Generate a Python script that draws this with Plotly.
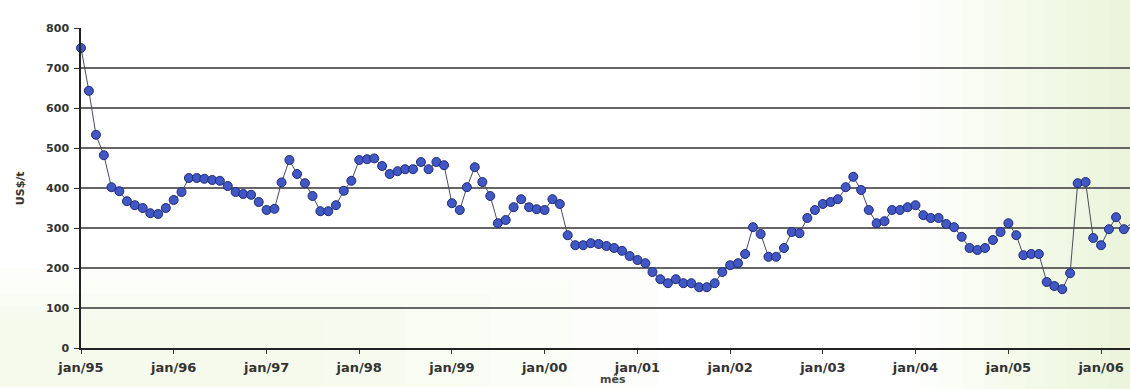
import pandas as pd
import plotly.graph_objects as go

# Monthly price, US$/t, Jan 1995 - May 2006
price_1995 = [750, 643, 533, 482, 402, 392, 367, 357, 350, 337, 335, 350]
price_1996 = [370, 390, 425, 425, 423, 420, 418, 405, 390, 385, 383, 365]
price_1997 = [345, 348, 414, 470, 435, 412, 380, 342, 342, 357, 393, 418]
price_1998 = [470, 472, 474, 455, 435, 442, 447, 447, 465, 447, 465, 457]
price_1999 = [362, 345, 402, 452, 415, 380, 312, 320, 352, 372, 352, 347]
price_2000 = [345, 372, 360, 282, 257, 257, 262, 260, 255, 250, 243, 230]
price_2001 = [220, 212, 190, 172, 162, 172, 162, 162, 152, 152, 162, 190]
price_2002 = [207, 212, 235, 302, 285, 228, 228, 250, 290, 287, 325, 345]
price_2003 = [360, 365, 372, 402, 428, 395, 345, 312, 317, 345, 345, 352]
price_2004 = [357, 332, 325, 325, 310, 302, 278, 250, 245, 250, 270, 290]
price_2005 = [312, 282, 232, 235, 235, 165, 155, 147, 187, 412, 415, 275]
price_2006 = [257, 297, 327, 297, 312]

prices = (price_1995 + price_1996 + price_1997 + price_1998 + price_1999 +
          price_2000 + price_2001 + price_2002 + price_2003 + price_2004 +
          price_2005 + price_2006)
months = pd.date_range("1995-01-01", periods=len(prices), freq="MS")

tick_years = list(range(1995, 2007))
tick_dates = [f"{y}-01-01" for y in tick_years]
tick_labels = [f"jan/{str(y)[2:]}" for y in tick_years]
y_ticks = [0, 100, 200, 300, 400, 500, 600, 700, 800]

fig = go.Figure()

# soft green-yellow wash towards the right edge and lower left
wash = []
for k in range(10):
    x0 = 0.80 + k * 0.02
    wash.append(dict(type="rect", xref="paper", yref="paper", x0=x0, x1=1.05,
                     y0=-0.2, y1=1.1, fillcolor="rgb(225,235,185)",
                     opacity=0.06, line_width=0, layer="below"))
for k in range(5):
    wash.append(dict(type="rect", xref="paper", yref="paper", x0=-0.09,
                     x1=0.55 - k * 0.08, y0=-0.12, y1=0.25 - k * 0.04,
                     fillcolor="rgb(230,238,205)", opacity=0.07,
                     line_width=0, layer="below"))

fig.add_trace(go.Scatter(
    x=months, y=prices, mode="lines+markers",
    line=dict(color="#4a4a5e", width=1),
    marker=dict(symbol="circle", size=9, color="#4157c4",
                line=dict(color="#1f2c78", width=1)),
    cliponaxis=False, showlegend=False,
))

fig.update_layout(
    width=1130, height=389,
    margin=dict(l=81, r=0, t=28, b=41),
    paper_bgcolor="white", plot_bgcolor="rgba(0,0,0,0)",
    shapes=wash,
    font=dict(family="DejaVu Sans", color="#333333"),
    annotations=[
        dict(text="US$/t", xref="paper", yref="paper", x=-0.058, y=0.5,
             xanchor="center", yanchor="middle", textangle=-90,
             showarrow=False,
             font=dict(family="DejaVu Sans", size=11, weight="bold",
                       color="#333333")),
        dict(text="mês", xref="paper", yref="paper", x=0.507, y=-0.125,
             xanchor="center", yanchor="bottom", showarrow=False,
             font=dict(family="DejaVu Sans", size=11, weight="bold",
                       color="#444444")),
    ],
)

fig.update_xaxes(
    type="date", range=["1995-01-01", "2006-04-25"],
    tickvals=tick_dates, ticktext=tick_labels,
    tickfont=dict(family="DejaVu Sans", size=13, weight="bold",
                  color="#333333"),
    ticks="outside", ticklen=4, tickcolor="#333333",
    ticklabelstandoff=3,
    showgrid=False, zeroline=False,
    showline=True, linecolor="#222222", linewidth=1.5,
)

fig.update_yaxes(
    range=[0, 800], tickvals=y_ticks,
    tickfont=dict(family="DejaVu Sans", size=11, weight="bold",
                  color="#333333"),
    ticks="outside", ticklen=5, tickcolor="#333333",
    ticklabelstandoff=3,
    showgrid=True, gridcolor="#666666", gridwidth=2,
    zeroline=False,
    showline=True, linecolor="#222222", linewidth=1.5,
)

fig.write_html("out.html")
